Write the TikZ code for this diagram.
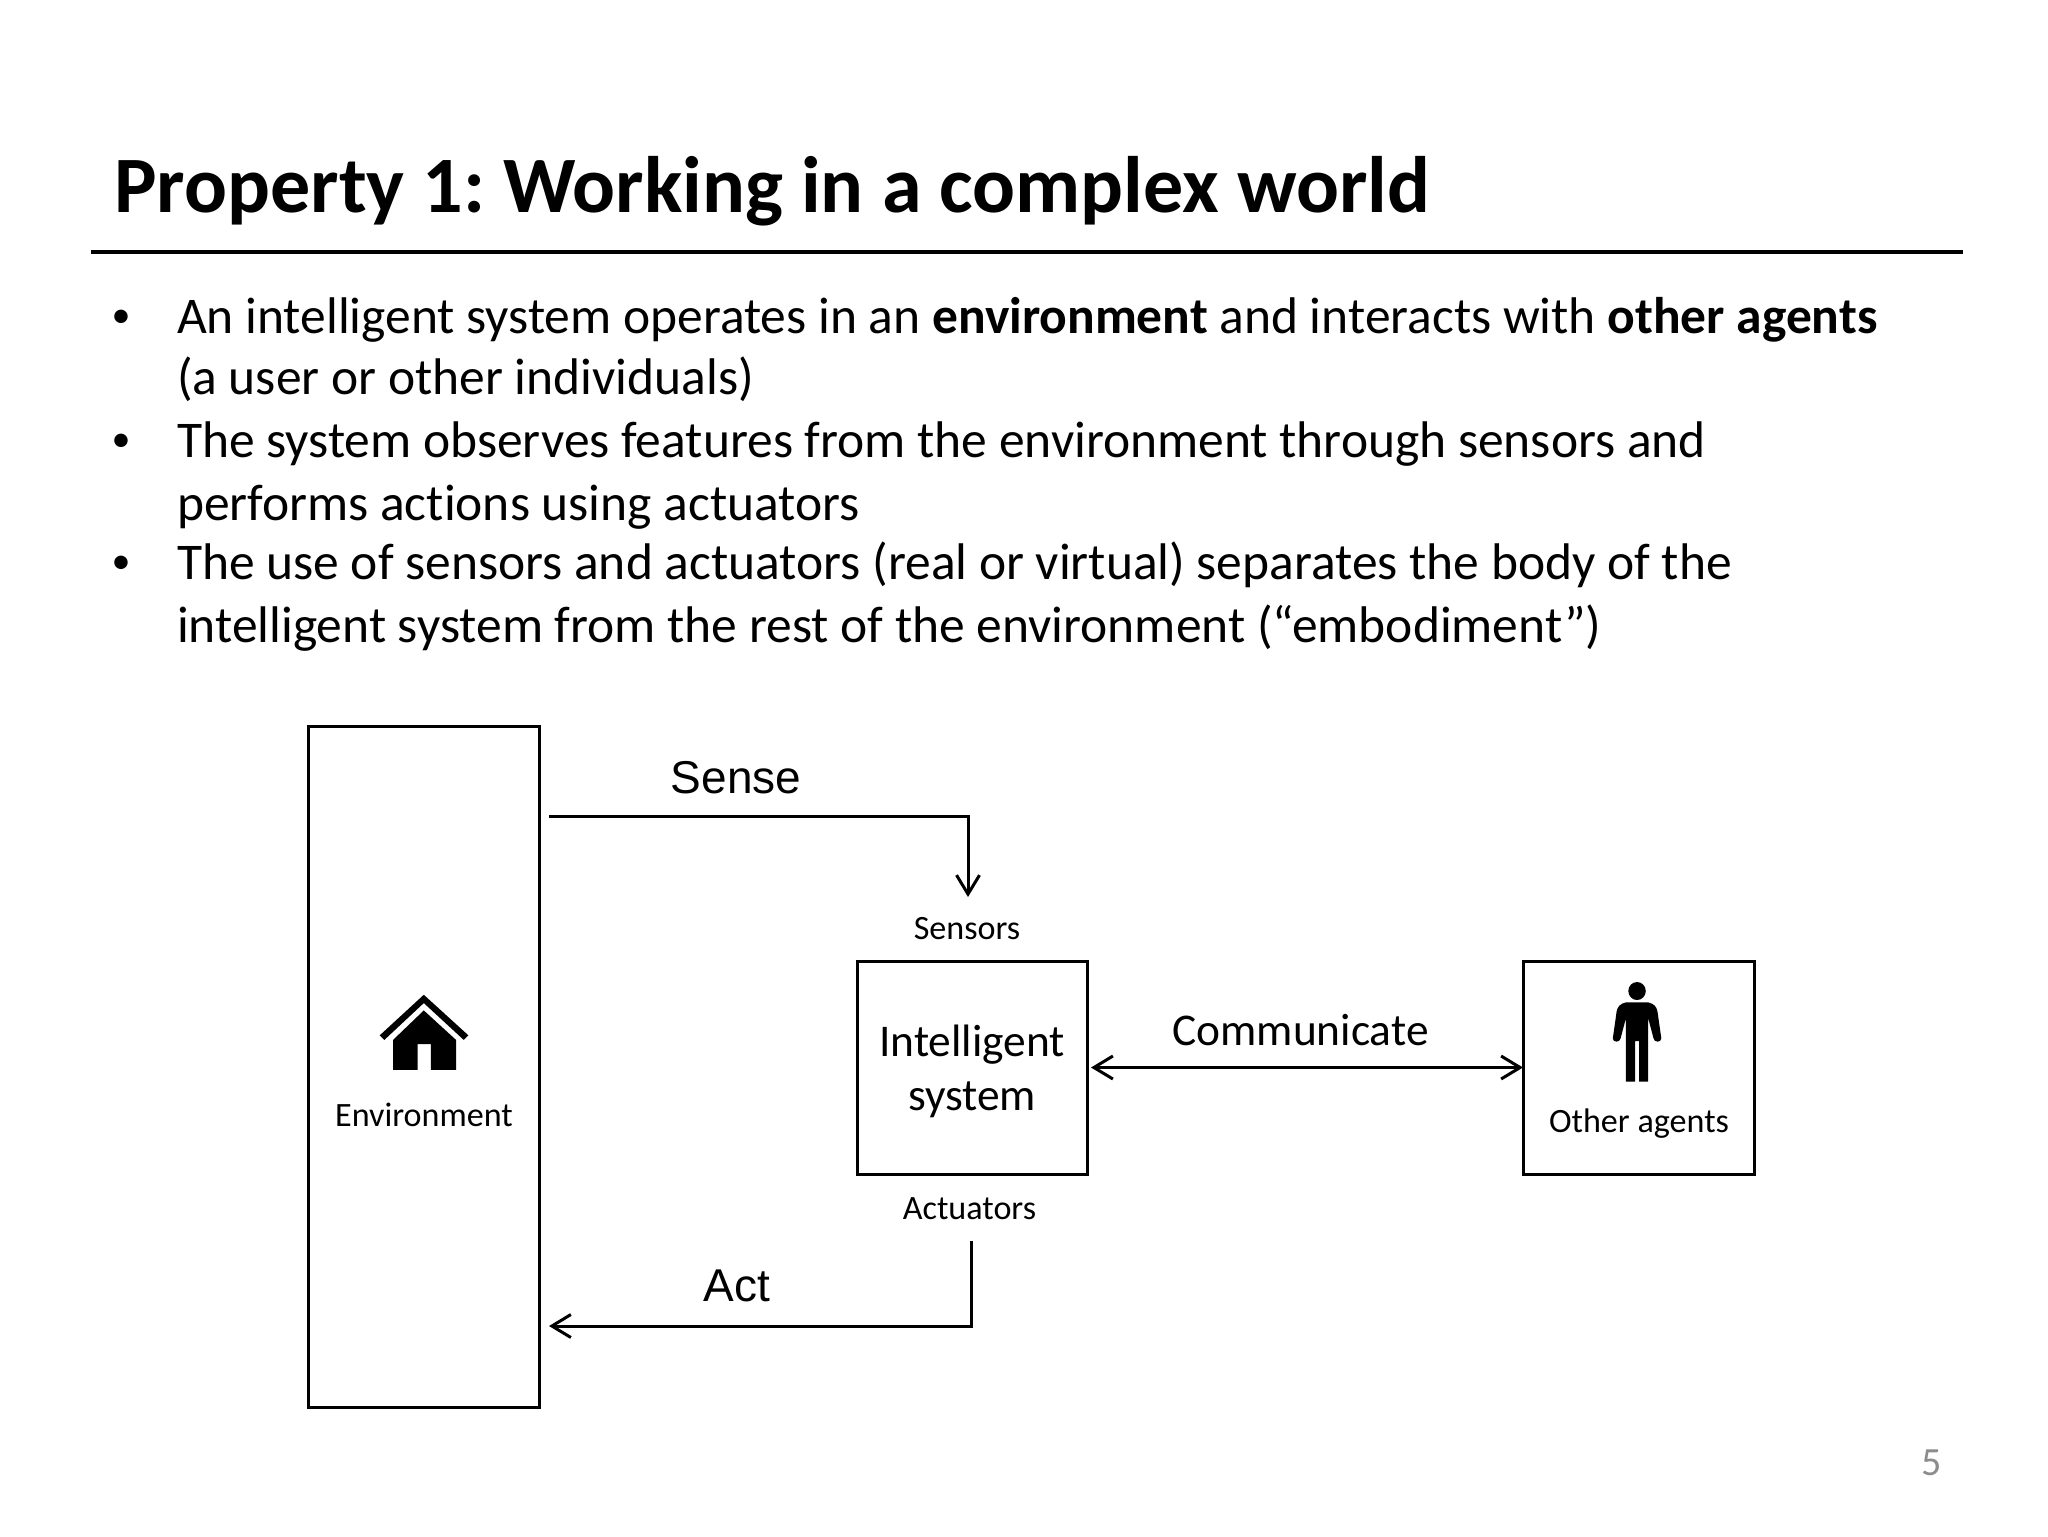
\documentclass[tikz,border=0pt]{standalone}
\usepackage{fontspec}
\setmainfont{Carlito}[Ligatures=NoCommon]
\newfontfamily\arialf{Liberation Sans}
\usetikzlibrary{arrows.meta}
\newcommand{\fsz}[1]{\fontsize{#1}{#1}\selectfont}
\frenchspacing
\tikzset{
  txt/.style={inner sep=0pt,outer sep=0pt,anchor=base west,font=\fsz{25.75}},
  bul/.style={inner sep=0pt,outer sep=0pt,anchor=base,font=\fsz{19}},
  boxnode/.style={draw=black,line width=1.5pt,inner sep=0pt,outer sep=0pt,align=center},
  conn/.style={draw=black,line width=1.5pt,line join=miter},
  small/.style={inner sep=0pt,outer sep=0pt,anchor=base,font=\fsz{17.05}},
  cal/.style={inner sep=0pt,outer sep=0pt,anchor=base,font=\fsz{22.7}},
  ari/.style={inner sep=0pt,outer sep=0pt,anchor=base,font=\arialf\fsz{23}},
}
\begin{document}
\begin{tikzpicture}[x=0.5pt,y=-0.5pt]
\path[fill=white,use as bounding box] (0,0) rectangle (2048,1536);
% title
\node[inner sep=0pt,anchor=base west,font=\bfseries\fsz{40}] (title) at (114,212) {Property 1: Working in a complex world};
\coordinate (ruleL) at (90.6,252);
\coordinate (ruleR) at (1963,252);
\draw[black,line width=2pt] (ruleL) -- (ruleR);
% bullets
\node[bul] (b1) at (121,327) {•};
\node[bul] (b2) at (121,451) {•};
\node[bul] (b3) at (121,573) {•};
\node[txt] (l1) at (177,333) {An intelligent system operates in an \textbf{environment} and interacts with \textbf{other agents}};
\node[txt] (l2) at (177,394) {(a user or other individuals)};
\node[txt] (l3) at (177,457) {The system observes features from the environment through sensors and};
\node[txt] (l4) at (177,520) {performs actions using actuators};
\node[txt] (l5) at (177,579) {The use of sensors and actuators (real or virtual) separates the body of the};
\node[txt] (l6) at (177,642) {intelligent system from the rest of the environment (“embodiment”)};
% boxes
\node[boxnode,minimum width=115.5pt,minimum height=340.5pt] (env) at (424,1066.5) {};
\node[boxnode,minimum width=115pt,minimum height=106.5pt] (intel) at (972,1067.5) {};
\node[inner sep=0pt,align=center,font=\fontsize{22.7}{27}\selectfont] (inteltxt) at (972,1071) {Intelligent\\system};
\node[boxnode,minimum width=115.5pt,minimum height=106.5pt] (other) at (1638.5,1067.5) {};
% labels
\node[small] (envl) at (424,1126) {Environment};
\node[small] (otherl) at (1639,1132) {Other agents};
\node[small] (sens) at (967,939) {Sensors};
\node[small] (actu) at (969.5,1219) {Actuators};
\node[cal] (comm) at (1300.5,1045) {Communicate};
\node[ari] (sense) at (736,793) {Sense};
\node[ari] (act) at (737,1301) {Act};
% connectors
\coordinate (senseS) at (549,816.6);
\coordinate (senseE) at (968,897);
\coordinate (actS) at (971.5,1240.6);
\coordinate (actE) at (549,1326);
\draw[conn,-{Straight Barb[length=9.5pt,width=11.5pt]}] (senseS) -| (senseE);
\draw[conn,-{Straight Barb[length=9.5pt,width=11.5pt]}] (actS) |- (actE);
\draw[conn,{Straight Barb[length=9.5pt,width=11.5pt]}-{Straight Barb[length=9.5pt,width=11.5pt]},shorten <=2pt] (intel.east) -- (other.west);
% house icon
\begin{scope}[shift={(281.86,704.33)},x=0.2562pt,y=-0.2305pt]
  \fill[black] (277,630) -- (364,718) -- (355,728) -- (277,648) -- (200,728) -- (191,718) -- cycle;
  \fill[black,even odd rule] (217,793) -- (217,728) -- (277,664) -- (340,728) -- (340,793) -- (291,793) -- (291,737) -- (265,737) -- (265,793) -- cycle;
\end{scope}
% person icon
\begin{scope}[shift={(1057.7,905)},x=0.2424pt,y=-0.1667pt]
  \fill[black] (1195,258) ellipse [x radius=18,y radius=27];
  \fill[black] (1172,292) .. controls (1160,296) and (1155,305) .. (1153,318)
    -- (1145,400) .. controls (1145,413) and (1160,413) .. (1161,400)
    -- (1172,340) -- (1172,530) -- (1191,530) -- (1191,408) -- (1199,408) -- (1199,530) -- (1218,530) -- (1218,340)
    -- (1229,400) .. controls (1230,413) and (1245,413) .. (1245,400)
    -- (1237,318) .. controls (1235,305) and (1230,296) .. (1218,292) -- cycle;
\end{scope}
% page number
\node[inner sep=0pt,anchor=base,font=\fsz{20},text=black!45] (pg) at (1932,1475) {5};
\end{tikzpicture}
\end{document}
